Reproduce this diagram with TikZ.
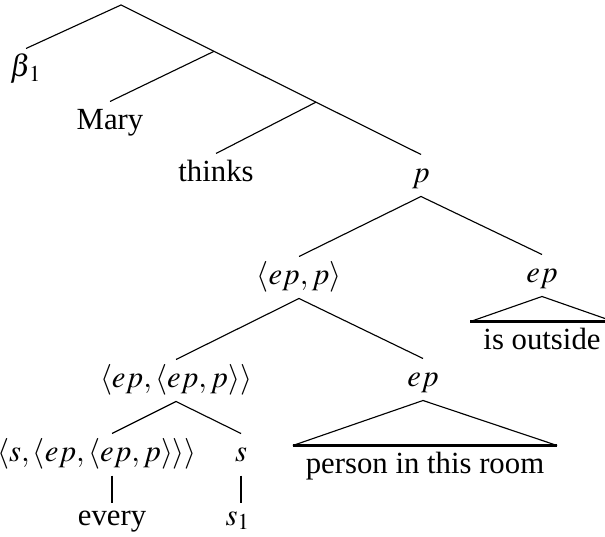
\documentclass[tikz,border=0pt]{standalone}
\usepackage{mathptmx}
\usepackage[no-math]{fontspec}
\setmainfont{Liberation Serif}
\usetikzlibrary{calc}
\tikzset{
  tnode/.style    = {anchor=base,inner xsep=2pt,inner ysep=2.5pt,text height=8.7pt,text depth=2.7pt},
  lowleaf/.style  = {tnode,text height=6.3pt},
  roofnode/.style = {tnode,inner xsep=5pt},
  treeline/.style = {line width=0.45pt},
  roofline/.style = {line width=0.9pt},
  stemline/.style = {line width=0.8pt}
}

\begin{document}
\begin{tikzpicture}[x=0.4pt,y=-0.4pt,font=\fontsize{12.3}{14}\selectfont]
  \useasboundingbox (0,0) rectangle (605,537);
  % spine
  \coordinate (root) at (121,5);
  \node[tnode] (beta)   at (26,77)   {$\beta_{\kern0.8pt 1}$};
  \node[tnode] (mary)   at (110,130) {Mary};
  \node[tnode] (thinks) at (216,182) {thinks};
  \node[tnode] (p)      at (421,183) {$p$};
  \coordinate (b1) at ($(root)!0.31!(p.north)$);
  \coordinate (b2) at ($(root)!0.65!(p.north)$);
  % lower part
  \node[tnode] (epp)    at (299,285) {$\langle ep,p\rangle$};
  \node[tnode] (epR)    at (542,283) {$ep$};
  \node[roofnode] (isout) at (542,350) {is outside};
  \node[tnode] (epepp)  at (176,388) {$\langle ep,\langle ep,p\rangle\rangle$};
  \node[tnode] (epL)    at (423,387) {$ep$};
  \node[roofnode] (person) at (425,474) {person in this room};
  \node[tnode] (sq)     at (97,462)  {$\langle s,\langle ep,\langle ep,p\rangle\rangle\rangle$};
  \node[tnode] (s)      at (241,462) {$s$};
  \node[lowleaf] (every) at (112,525) {every};
  \node[lowleaf] (sone)  at (238,525) {$s_1$};

  \draw[treeline] (beta.north) -- (root) -- (p.north);
  \draw[treeline] (b1) -- (mary.north);
  \draw[treeline] (b2) -- (thinks.north);
  \draw[treeline] (epp.north) -- (p.south) -- (epR.north);
  \draw[treeline] (epepp.north) -- (epp.south) -- (epL.north);
  \draw[treeline] (sq.north -| every.north) -- (epepp.south) -- (s.north);
  \draw[stemline] (sq.south -| every.north) -- (every.north);
  \draw[stemline] (s.south) -- (s.south |- sone.north);
  % roofs
  \draw[treeline] (isout.north west) -- (epR.south) -- (isout.north east);
  \draw[roofline] (isout.north west) -- (isout.north east);
  \draw[treeline] (person.north west) -- (epL.south) -- (person.north east);
  \draw[roofline] (person.north west) -- (person.north east);
\end{tikzpicture}
\end{document}
